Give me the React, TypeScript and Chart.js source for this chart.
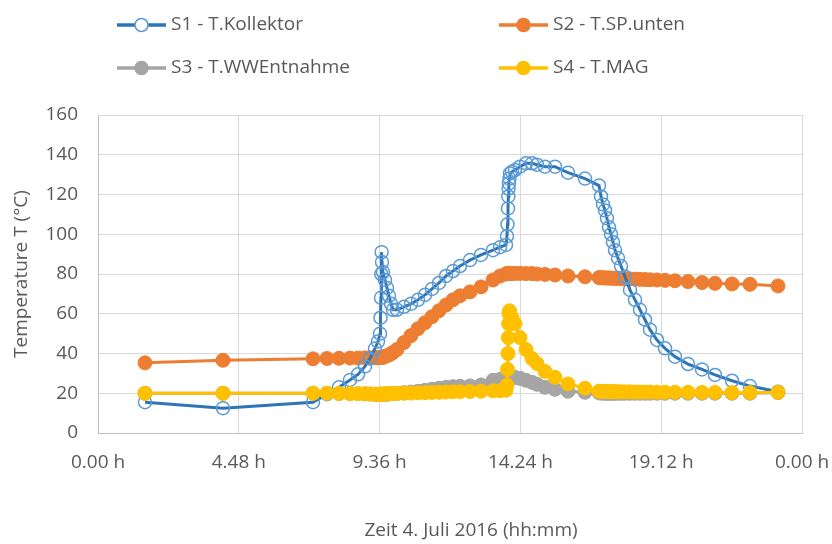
import React, { useEffect, useRef } from 'react';
import { Chart, registerables } from 'chart.js';

Chart.register(...registerables);

// Time of day in hours (4 July 2016)
const timeHours = [
  1.602, 4.261, 7.33, 7.807, 8.216, 8.591, 8.864, 9.102, 9.273, 9.443, 9.545, 9.614,
  9.631, 9.648, 9.658, 9.668, 9.682, 9.716, 9.784, 9.852, 9.92, 9.989, 10.057,
  10.193, 10.432, 10.67, 10.909, 11.148, 11.386, 11.625, 11.864, 12.102, 12.341, 12.682, 13.057, 13.466, 13.705, 13.909,
  13.943, 13.96, 13.977, 13.988, 13.998, 14.011, 14.028, 14.045, 14.114, 14.216, 14.386, 14.591,
  14.795, 14.966, 15.239, 15.58, 16.023, 16.602, 17.08,
  17.148, 17.216, 17.284, 17.352, 17.42, 17.489, 17.557, 17.625, 17.727, 17.83, 17.966, 18.136, 18.307, 18.477, 18.648, 18.818, 19.057, 19.33, 19.67,
  20.114, 20.591, 21.034, 21.614, 22.227, 23.182,
];

const s1Kollektor = [
  15.5, 12.5, 15.5, 19.5, 23, 26.7, 29.5, 33.5, 37.5, 42.5, 46, 50,
  58, 68, 80, 91, 86, 81, 77, 73, 69, 65, 62,
  62, 63.5, 65, 67, 69.5, 72.5, 75.5, 79, 81.5, 84, 87, 89.6, 92, 93.5, 94.6,
  99, 105, 113, 119, 123, 125.6, 128, 130.6, 131.5, 132.3, 134, 135.7,
  135.7, 135, 134, 134, 131, 128, 124.5,
  119, 115, 112, 108, 103.5, 100, 96, 92, 88, 84, 78.6, 72, 67, 62, 57, 52, 46.8, 42.6, 38.4,
  34.7, 32, 29.2, 26.3, 23.6, 20.8,
];

const s2SpUnten = [
  35.3, 36.6, 37.3, 37.5, 37.6, 37.7, 37.7, 37.8, 37.8, 37.9, 37.9, 38,
  38, 38, 38, 38, 38.1, 38.2, 38.5, 38.9, 39.3, 39.8, 40.5,
  42, 45.5, 49, 52.5, 55.5, 58.5, 61.5, 64.4, 67, 69, 71, 73.5, 77, 79, 80,
  80.2, 80.3, 80.3, 80.3, 80.3, 80.3, 80.3, 80.3, 80.3, 80.3, 80.3, 80.2,
  80.2, 80, 79.8, 79.5, 79, 78.6, 78.2,
  78.1, 78.1, 78, 78, 78, 77.9, 77.9, 77.8, 77.8, 77.7, 77.6, 77.5, 77.4, 77.3, 77.2, 77.1, 77, 76.8, 76.6,
  76.2, 75.7, 75.3, 75, 74.8, 74,
];

const s3WWEntnahme = [
  20, 20, 20, 20, 19.9, 19.8, 19.8, 19.7, 19.6, 19.5, 19.4, 19.4,
  19.4, 19.4, 19.4, 19.4, 19.4, 19.5, 19.5, 19.6, 19.7, 19.8, 19.9,
  20, 20.3, 20.6, 21, 21.5, 22, 22.5, 23, 23.3, 23.5, 23.7, 24.2, 26.5, 27, 26.5,
  26.5, 26.6, 26.7, 26.8, 26.9, 27, 27.2, 27.5, 28, 28, 27.5, 26.5,
  25.5, 24.5, 23, 22, 21, 20.5, 20.2,
  20.1, 20.1, 20, 20, 20, 20, 20, 20, 20, 20, 20, 20, 20, 20, 20, 20, 20, 20, 20,
  20, 20, 20, 20, 20, 20.3,
];

const s4MAG = [
  20, 20, 20, 20, 19.9, 19.8, 19.8, 19.7, 19.6, 19.5, 19.5, 19.5,
  19.5, 19.5, 19.5, 19.5, 19.5, 19.6, 19.6, 19.7, 19.7, 19.8, 19.8,
  19.9, 20, 20.1, 20.2, 20.3, 20.4, 20.5, 20.6, 20.7, 20.8, 20.9, 21, 21.2, 21.3, 21.5,
  24, 32, 40, 48, 55, 60, 61.5, 60.5, 58, 55, 48, 42,
  37.5, 35, 31, 28, 24.7, 22.5, 21,
  21, 20.9, 20.9, 20.9, 20.8, 20.8, 20.8, 20.8, 20.7, 20.7, 20.7, 20.7, 20.6, 20.6, 20.6, 20.6, 20.5, 20.5, 20.5,
  20.5, 20.4, 20.4, 20.3, 20.3, 20.5,
];

const seriesLabels = ['S1 - T.Kollektor', 'S2 - T.SP.unten', 'S3 - T.WWEntnahme', 'S4 - T.MAG'];
const xTickValues = [0, 4.8, 9.6, 14.4, 19.2, 24];
const xTickLabels = ['0.00 h', '4.48 h', '9.36 h', '14.24 h', '19.12 h', '0.00 h'];
const yAxisTitle = 'Temperature T (°C)';
const xAxisTitle = 'Zeit 4. Juli 2016 (hh:mm)';

const FONT = "'Open Sans', 'Noto Sans', sans-serif";
const TEXT_COLOR = '#595959';

const toPoints = (vals: number[]) => timeHours.map((t, i) => ({ x: t, y: vals[i] }));

const legendPlugin = {
  id: 'excelLegend',
  afterDraw(chart: any) {
    const ctx = chart.ctx as CanvasRenderingContext2D;
    ctx.save();
    const colX = [117, 499];
    const rowY = [25, 68];
    chart.data.datasets.forEach((ds: any, i: number) => {
      const x0 = colX[i % 2];
      const y = rowY[Math.floor(i / 2)];
      ctx.beginPath();
      ctx.strokeStyle = ds.borderColor;
      ctx.lineWidth = 3.5;
      ctx.moveTo(x0, y);
      ctx.lineTo(x0 + 49, y);
      ctx.stroke();
      ctx.beginPath();
      ctx.arc(x0 + 24.5, y, 6.5, 0, Math.PI * 2);
      ctx.fillStyle = ds.pointBackgroundColor === 'rgba(0,0,0,0)' ? '#ffffff' : ds.pointBackgroundColor;
      ctx.fill();
      ctx.strokeStyle = ds.pointBorderColor;
      ctx.lineWidth = 1.5;
      ctx.stroke();
      ctx.fillStyle = TEXT_COLOR;
      ctx.font = `19px ${FONT}`;
      ctx.textBaseline = 'middle';
      ctx.textAlign = 'left';
      ctx.fillText(ds.label, x0 + 54, y);
    });
    // x axis title
    ctx.fillStyle = TEXT_COLOR;
    ctx.font = `19px ${FONT}`;
    ctx.textAlign = 'center';
    ctx.textBaseline = 'middle';
    ctx.fillText(xAxisTitle, 471, 531);
    ctx.restore();
  },
};

export default function App() {
  const canvasRef = useRef<HTMLCanvasElement | null>(null);

  useEffect(() => {
    if (!canvasRef.current) return;
    const common = { borderWidth: 3, pointBorderWidth: 1, tension: 0, pointHoverRadius: 7 };
    const chart = new Chart(canvasRef.current, {
      type: 'line',
      data: {
        datasets: [
          {
            ...common,
            label: seriesLabels[0],
            data: toPoints(s1Kollektor),
            borderColor: '#2E75B6',
            pointBorderColor: '#5B9BD5',
            pointBackgroundColor: 'rgba(0,0,0,0)',
            pointRadius: 6.5,
            pointBorderWidth: 1.5,
            order: 2,
          },
          {
            ...common,
            label: seriesLabels[1],
            data: toPoints(s2SpUnten),
            borderColor: '#ED7D31',
            pointBorderColor: '#ED7D31',
            pointBackgroundColor: '#ED7D31',
            pointRadius: 7,
            order: 3,
          },
          {
            ...common,
            label: seriesLabels[2],
            data: toPoints(s3WWEntnahme),
            borderColor: '#A5A5A5',
            pointBorderColor: '#A5A5A5',
            pointBackgroundColor: '#A5A5A5',
            pointRadius: 7,
            order: 1,
          },
          {
            ...common,
            label: seriesLabels[3],
            data: toPoints(s4MAG),
            borderColor: '#FFC000',
            pointBorderColor: '#FFC000',
            pointBackgroundColor: '#FFC000',
            pointRadius: 7,
            order: 0,
          },
        ],
      },
      options: {
        responsive: false,
        animation: false,
        devicePixelRatio: 1,
        layout: { padding: { top: 115, right: 30, bottom: 0, left: 0 } },
        plugins: {
          legend: { display: false },
          tooltip: { enabled: false },
        },
        scales: {
          x: {
            type: 'linear',
            min: 0,
            max: 24,
            afterBuildTicks: (scale: any) => {
              scale.ticks = xTickValues.map((v) => ({ value: v }));
            },
            afterFit: (scale: any) => {
              scale.height = 111;
              scale.paddingLeft = 0;
              scale.paddingRight = 0;
            },
            ticks: {
              autoSkip: false,
              maxRotation: 0,
              padding: 18,
              color: TEXT_COLOR,
              font: { family: FONT, size: 19 },
              callback: (_v: any, index: number) => xTickLabels[index],
            },
            grid: { color: '#D9D9D9', drawTicks: false, lineWidth: 1 },
            border: { color: '#BFBFBF' },
          },
          y: {
            min: 0,
            max: 160,
            afterFit: (scale: any) => {
              scale.width = 98;
              scale.paddingTop = 0;
              scale.paddingBottom = 0;
            },
            ticks: {
              stepSize: 20,
              padding: 20,
              color: TEXT_COLOR,
              font: { family: FONT, size: 19 },
            },
            grid: { color: '#D9D9D9', drawTicks: false, lineWidth: 1 },
            border: { color: '#BFBFBF' },
            title: {
              display: true,
              text: yAxisTitle,
              color: TEXT_COLOR,
              font: { family: FONT, size: 19 },
              padding: { top: 10, bottom: 0 },
            },
          },
        },
      },
      plugins: [legendPlugin],
    } as any);
    return () => chart.destroy();
  }, []);

  return (
    <div style={{ position: 'fixed', left: 0, top: 0, width: 832, height: 544, background: '#fff' }}>
      <canvas ref={canvasRef} width={832} height={544} style={{ display: 'block' }} />
    </div>
  );
}
